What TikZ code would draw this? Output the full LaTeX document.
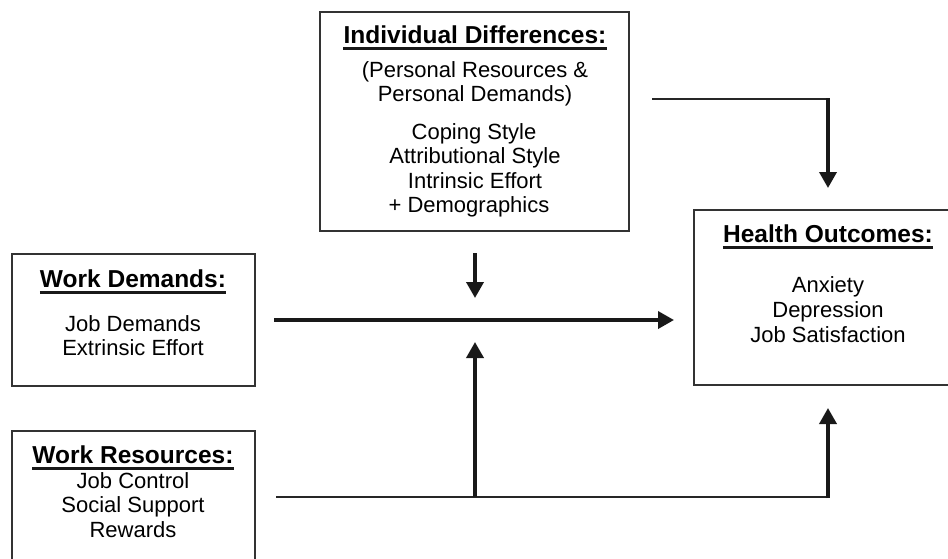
\documentclass[tikz,border=0pt]{standalone}
\usepackage{fontspec}
\setmainfont{Liberation Sans}
\usetikzlibrary{arrows.meta,calc}
\begin{document}
\begin{tikzpicture}[x=1pt,y=-1pt,
  box/.style={draw=black!80,line width=2pt,inner sep=0pt,outer sep=0pt,anchor=north west},
  head/.style={font=\fontsize{24.5}{28}\selectfont\bfseries,anchor=base,inner sep=0pt},
  body/.style={font=\fontsize{22}{25}\selectfont,anchor=base,inner sep=0pt},
  uline/.style={line width=2.6pt,black!90},
  link/.style={line width=1.8pt,black!85},
  flow/.style={line width=3.6pt,black!90,-{Triangle[length=16pt,width=17pt]}},
]
\useasboundingbox (0,0) rectangle (948,558);
\fill[white] (0,0) rectangle (948,558);

% frames
\node[box,minimum width=309pt,minimum height=219pt] (ind) at (320,12) {};
\node[box,minimum width=258pt,minimum height=175pt] (hlth) at (694,210) {};
\node[box,minimum width=243pt,minimum height=132pt] (wd) at (12,254) {};
\node[box,minimum width=243pt,minimum height=144pt] (wr) at (12,431) {};

% individual differences
\node[head] (indH) at (475,43) {Individual Differences:};
\node[body] (ind1) at (475,77) {(Personal Resources \&};
\node[body] (ind2) at (475,101) {Personal Demands)};
\node[body] (ind3) at (474,139) {Coping Style};
\node[body] (ind4) at (475,163) {Attributional Style};
\node[body] (ind5) at (475,188) {Intrinsic Effort};
\node[body] (ind6) at (469,212) {+ Demographics};

% health outcomes
\node[head] (hoH) at (828,242) {Health Outcomes:};
\node[body] (ho1) at (828,292) {Anxiety};
\node[body] (ho2) at (828,317) {Depression};
\node[body] (ho3) at (828,342) {Job Satisfaction};

% work demands
\node[head] (wdH) at (133,287) {Work Demands:};
\node[body] (wd1) at (133,331) {Job Demands};
\node[body] (wd2) at (133,355) {Extrinsic Effort};

% work resources
\node[head] (wrH) at (133,463) {Work Resources:};
\node[body] (wr1) at (133,488) {Job Control};
\node[body] (wr2) at (133,512) {Social Support};
\node[body] (wr3) at (133,537) {Rewards};

\foreach \h in {indH,hoH,wdH,wrH}
  \draw[uline] ($(\h.base west)+(0,5.5)$) -- ($(\h.base east)+(0,5.5)$);

% connector points
\coordinate (topA) at (652,99);
\coordinate (topB) at (828,99);
\coordinate (topC) at (828,188);
\coordinate (modA) at (475,253);
\coordinate (modB) at (475,298);
\coordinate (mainA) at (274,320);
\coordinate (mainB) at (674,320);
\coordinate (botA) at (276,497);
\coordinate (botM) at (475,497);
\coordinate (botB) at (828,497);
\coordinate (upM) at (475,342);
\coordinate (upR) at (828,408);

% connectors
\draw[link] (topA) -- (topB);
\draw[flow] ($(topB)+(0,-1)$) -- (topC);
\draw[flow] (modA) -- (modB);
\draw[flow] (mainA) -- (mainB);
\draw[link] (botA) -- (botB);
\draw[flow] (botM) -- (upM);
\draw[flow] ($(botB)+(0,1)$) -- (upR);
\end{tikzpicture}
\end{document}
